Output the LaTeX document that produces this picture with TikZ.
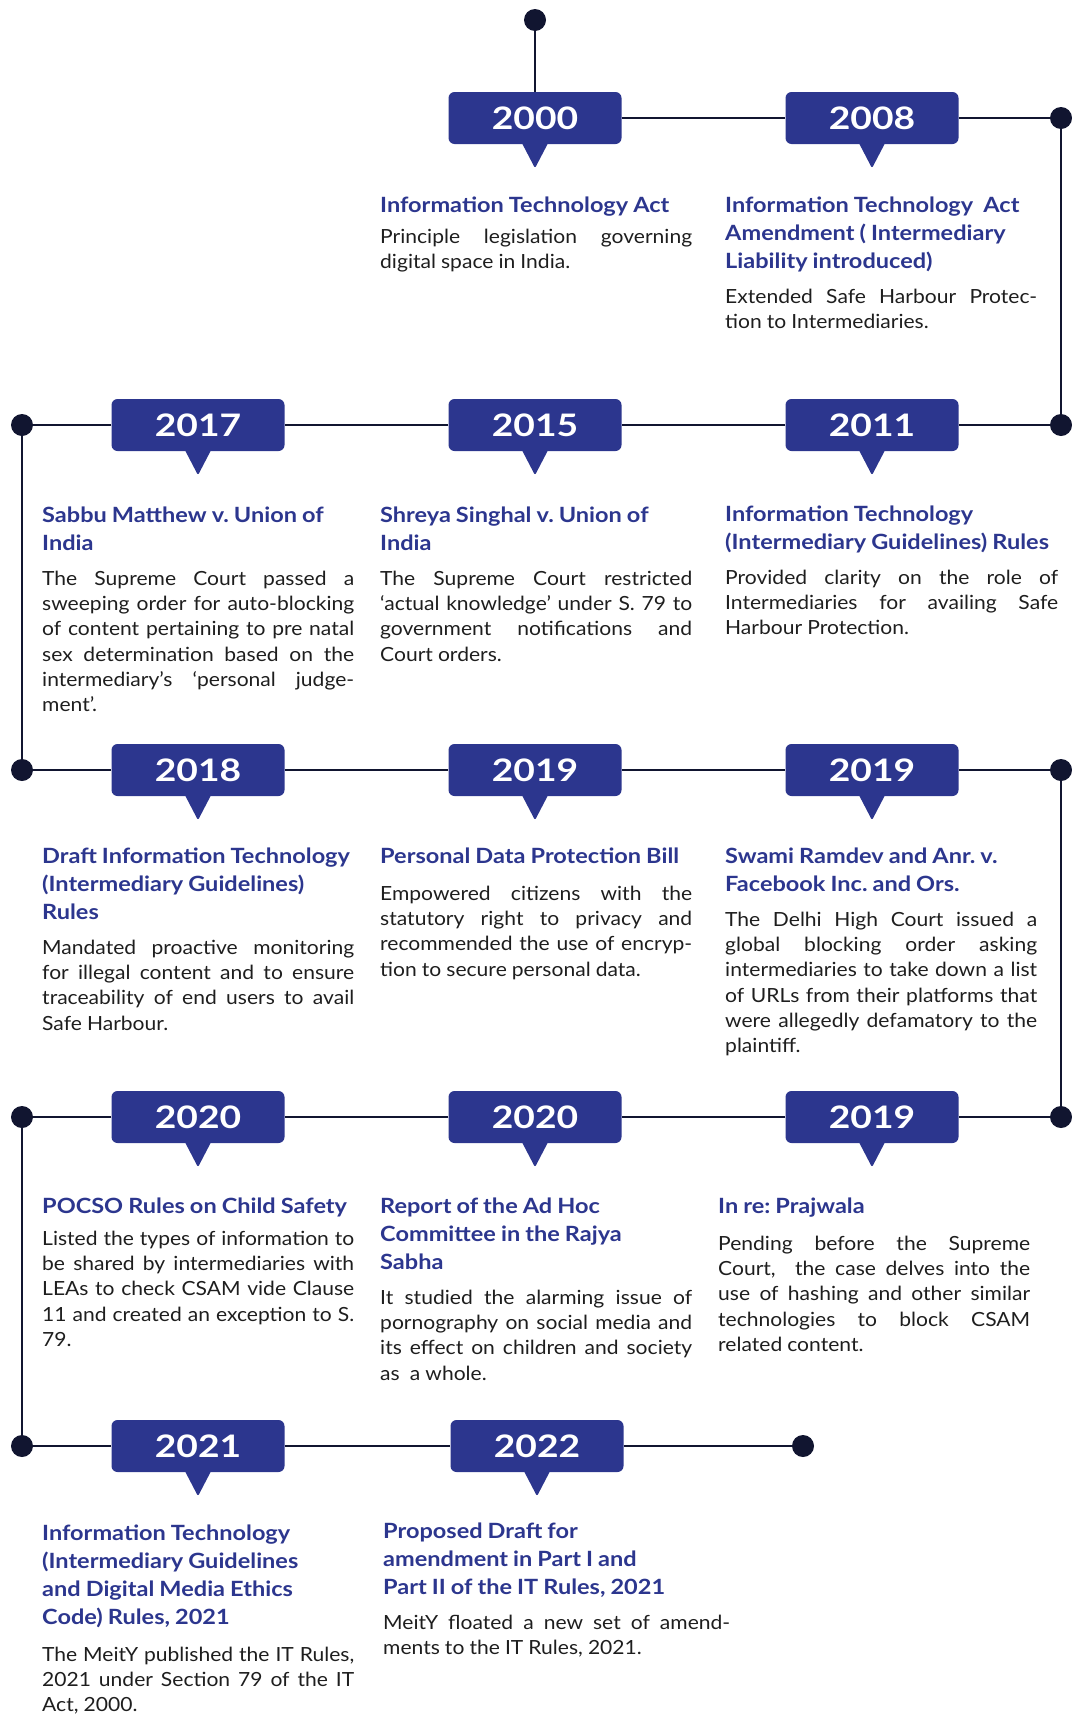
\documentclass[tikz,border=0pt]{standalone}
\usepackage{fontspec}
\setmainfont{Lato}[FakeStretch=1.08, BoldFeatures={FakeStretch=1.12}]
\newfontfamily\yearfont{Lato}[FakeStretch=1.2]
\usepackage{tikz}
\definecolor{yearBlue}{RGB}{44, 54, 142}
\definecolor{lineNavy}{RGB}{17, 21, 48}
\definecolor{bodyGrey}{RGB}{30, 30, 30}
\setlength{\parindent}{0pt}

% title in blue, then the justified description
\newcommand{\evw}{312pt}
\newcommand{\evtext}[3][9pt]{%
  {\raggedright\color{yearBlue}\bfseries\fontsize{21}{28}\selectfont
   \spaceskip=0.24em plus 0.08em\relax #2\par}%
  \vspace{#1}%
  {\color{bodyGrey}\fontsize{19.5}{25.3}\selectfont
   \spaceskip=0.26em plus 0.08em\relax #3\par}}
\newcommand{\jl}[1]{\makebox[\evw][s]{\spaceskip=0.22em plus 1fil\xspaceskip=\spaceskip #1}\\}

\begin{document}
\begin{tikzpicture}[x=1pt, y=-1pt,
    tline/.style={lineNavy, line width=2.8pt},
    tdot/.style={circle, fill=lineNavy, minimum size=22pt, inner sep=0pt},
    yearbox/.style={fill=yearBlue, rounded corners=6pt, minimum width=173pt,
      minimum height=52pt, inner sep=0pt, text=white,
      font=\yearfont\bfseries\fontsize{31}{31}\selectfont},
    event/.style={anchor=north west, inner sep=0pt, text width=#1,
      execute at begin node={\renewcommand{\evw}{#1}}},
    event/.default=312pt]
  \useasboundingbox (0,0) rectangle (1071,1716);

  % dots at the turns of the line
  \node[tdot] (top) at (535,20) {};
  \node[tdot] (r1) at (1061,118) {};
  \node[tdot] (r2) at (1061,425) {};
  \node[tdot] (l2) at (22,425) {};
  \node[tdot] (l3) at (22,770) {};
  \node[tdot] (r3) at (1061,770) {};
  \node[tdot] (r4) at (1061,1117) {};
  \node[tdot] (l4) at (22,1117) {};
  \node[tdot] (l5) at (22,1446) {};
  \node[tdot] (fin) at (803,1446) {};

  % year boxes
  \node[yearbox] (y2000) at (535,118) {2000};
  \node[yearbox] (y2008) at (872,118) {2008};
  \node[yearbox] (y2011) at (872,425) {2011};
  \node[yearbox] (y2015) at (535,425) {2015};
  \node[yearbox] (y2017) at (198,425) {2017};
  \node[yearbox] (y2018) at (198,770) {2018};
  \node[yearbox] (y2019a) at (535,770) {2019};
  \node[yearbox] (y2019b) at (872,770) {2019};
  \node[yearbox] (y2019c) at (872,1117) {2019};
  \node[yearbox] (y2020b) at (535,1117) {2020};
  \node[yearbox] (y2020a) at (198,1117) {2020};
  \node[yearbox] (y2021) at (198,1446) {2021};
  \node[yearbox] (y2022) at (537,1446) {2022};

  \foreach \b in {y2000,y2008,y2011,y2015,y2017,y2018,y2019a,y2019b,
      y2019c,y2020b,y2020a,y2021,y2022}
    \fill[yearBlue] ([xshift=-13pt,yshift=1pt]\b.south) [rounded corners=2pt]
      -- ([yshift=-24pt]\b.south) [sharp corners] -- ([xshift=13pt,yshift=1pt]\b.south) -- cycle;

  \foreach \a/\b in {top/y2000, y2000/y2008, y2008/r1, r1/r2, r2/y2011,
      y2011/y2015, y2015/y2017, y2017/l2, l2/l3, l3/y2018, y2018/y2019a,
      y2019a/y2019b, y2019b/r3, r3/r4, r4/y2019c, y2019c/y2020b,
      y2020b/y2020a, y2020a/l4, l4/l5, l5/y2021, y2021/y2022, y2022/fin}
    \draw[tline] (\a) -- (\b);

  % row 1
  \node[event] (e2000) at (380,197) {\evtext[5pt]{Information Technology Act}
    {\jl{Principle legislation governing}digital space in India.}};
  \node[event] (e2008) at (725,197) {\evtext{Information Technology\ \ Act\\
    Amendment ( Intermediary\\ Liability introduced)}
    {\jl{Extended Safe Harbour Protec-}tion to Intermediaries.}};

  % row 2
  \node[event] (e2017) at (42,507) {\evtext{Sabbu Matthew v. Union of\\ India}
    {\jl{The Supreme Court passed a}\jl{sweeping order for auto-blocking}%
     \jl{of content pertaining to pre natal}\jl{sex determination based on the}%
     \jl{intermediary’s ‘personal judge-}ment’.}};
  \node[event] (e2015) at (380,507) {\evtext{Shreya Singhal v. Union of\\ India}
    {\jl{The Supreme Court restricted}\jl{‘actual knowledge’ under S. 79 to}%
     \jl{government notifications and}Court orders.}};
  \node[event=333pt] (e2011) at (725,506) {\evtext{Information Technology\\
    (Intermediary Guidelines) Rules}
    {\jl{Provided clarity on the role of}\jl{Intermediaries for availing Safe}%
     Harbour Protection.}};

  % row 3
  \node[event] (e2018) at (42,848) {\evtext{Draft Information Technology\\
    (Intermediary Guidelines)\\ Rules}
    {\jl{Mandated proactive monitoring}\jl{for illegal content and to ensure}%
     \jl{traceability of end users to avail}Safe Harbour.}};
  \node[event] (e2019a) at (380,848) {\evtext[11pt]{Personal Data Protection Bill}
    {\jl{Empowered citizens with the}\jl{statutory right to privacy and}%
     \jl{recommended the use of encryp-}tion to secure personal data.}};
  \node[event] (e2019b) at (725,848) {\evtext{Swami Ramdev and Anr. v.\\
    Facebook Inc. and Ors.}
    {\jl{The Delhi High Court issued a}\jl{global blocking order asking}%
     \jl{intermediaries to take down a list}\jl{of URLs from their platforms that}%
     \jl{were allegedly defamatory to the}plaintiff.}};

  % row 4
  \node[event] (e2020a) at (42,1198) {\evtext[6pt]{POCSO Rules on Child Safety}
    {\jl{Listed the types of information to}\jl{be shared by intermediaries with}%
     \jl{LEAs to check CSAM vide Clause}\jl{11 and created an exception to S.}79.}};
  \node[event] (e2020b) at (380,1198) {\evtext{Report of the Ad Hoc\\
    Committee in the Rajya\\ Sabha}
    {\jl{It studied the alarming issue of}\jl{pornography on social media and}%
     \jl{its effect on children and society}as\ \ a whole.}};
  \node[event] (e2019c) at (718,1198) {\evtext[11pt]{In re: Prajwala}
    {\jl{Pending before the Supreme}\jl{Court,\ \ the case delves into the}%
     \jl{use of hashing and other similar}\jl{technologies to block CSAM}%
     related content.}};

  % row 5
  \node[event] (e2021) at (42,1525) {\evtext[11pt]{Information Technology\\
    (Intermediary Guidelines\\ and Digital Media Ethics\\ Code) Rules, 2021}
    {\jl{The MeitY published the IT Rules,}\jl{2021 under Section 79 of the IT}%
     Act, 2000.}};
  \node[event=347pt] (e2022) at (383,1523) {\evtext{Proposed Draft for\\
    amendment in Part I and\\ Part II of the IT Rules, 2021}
    {\jl{MeitY floated a new set of amend-}ments to the IT Rules, 2021.}};
\end{tikzpicture}
\end{document}
